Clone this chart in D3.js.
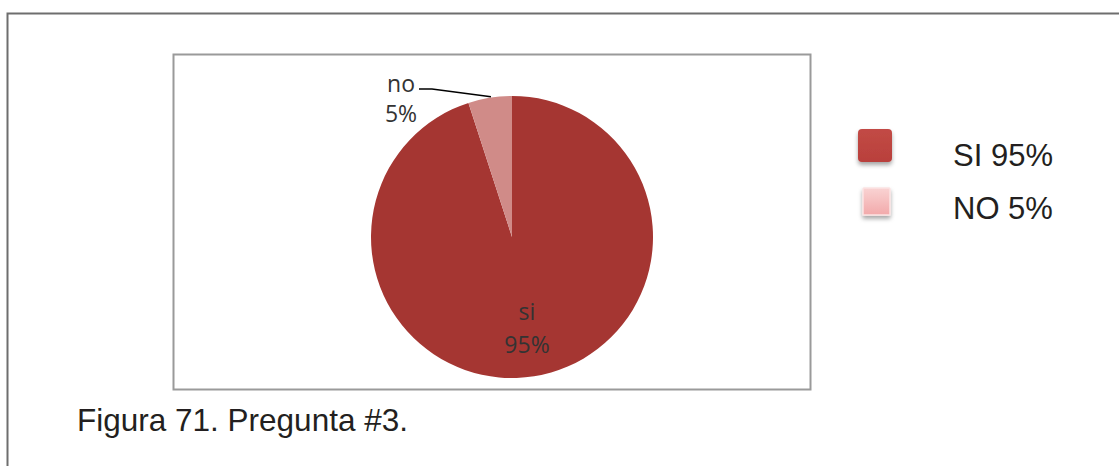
<!DOCTYPE html>
<html><head><meta charset="utf-8">
<script src="https://cdn.jsdelivr.net/npm/d3@7"></script>
<style>body{margin:0;background:#fff}svg{display:block}</style>
</head><body>
<svg id="c" width="1119" height="466"></svg>
<script>
const categories = ["si", "no"];
const values = [95, 5];
const legendLabels = ["SI 95%", "NO 5%"];
const caption = "Figura 71. Pregunta #3.";

const svg = d3.select("#c");
const defs = svg.append("defs");
const f = defs.append("filter").attr("id","sh").attr("x","-30%").attr("y","-30%").attr("width","160%").attr("height","170%");
f.append("feDropShadow").attr("dx",0).attr("dy",3).attr("stdDeviation",2).attr("flood-color","#000").attr("flood-opacity",0.35);
const g1 = defs.append("linearGradient").attr("id","gNo").attr("x1",0).attr("y1",0).attr("x2",0).attr("y2",1);
g1.append("stop").attr("offset","0%").attr("stop-color","#f9d3d3");
g1.append("stop").attr("offset","100%").attr("stop-color","#f2a9aa");
const g0 = defs.append("linearGradient").attr("id","gSi").attr("x1",0).attr("y1",0).attr("x2",0).attr("y2",1);
g0.append("stop").attr("offset","0%").attr("stop-color","#c24a45");
g0.append("stop").attr("offset","100%").attr("stop-color","#b9403c");

// outer frame
svg.append("path").attr("d","M7.5,470 V13.5 H1125").attr("fill","none").attr("stroke","#6e6e6e").attr("stroke-width",2);
// inner chart box
svg.append("rect").attr("x",173.5).attr("y",54.5).attr("width",637).attr("height",335)
  .attr("fill","#fff").attr("stroke","#9a9a9a").attr("stroke-width",2);

const color = d3.scaleOrdinal().domain(categories).range(["#a53632","#d08b88"]);
const pie = d3.pie().sort(null).value(d => d.v);
const data = categories.map((c,i)=>({c, v: values[i]}));
const arcs = pie(data);
const cx = 512, cy = 237, R = 141;
const arc = d3.arc().innerRadius(0).outerRadius(R);
const pg = svg.append("g").attr("transform",`translate(${cx},${cy})`);
pg.selectAll("path").data(arcs).join("path").attr("d",arc).attr("fill",d=>color(d.data.c));

const lblFont = "'Open Sans', 'Noto Sans', sans-serif";
const fs = 23;
// si label
const siArc = arcs[0];
pg.append("text").attr("x",15).attr("y",83).attr("text-anchor","middle")
  .attr("font-family",lblFont).attr("font-size",fs).attr("fill","#333")
  .text(siArc.data.c);
pg.append("text").attr("x",15).attr("y",116).attr("text-anchor","middle")
  .attr("font-family",lblFont).attr("font-size",fs).attr("fill","#333")
  .text(Math.round(siArc.data.v/d3.sum(values)*100)+"%");
// no label with leader
const noArc = arcs[1];
const mid = (noArc.startAngle+noArc.endAngle)/2;
const ex = Math.sin(mid)*R, ey = -Math.cos(mid)*R;
pg.append("polyline").attr("points",`${-93},${-148} ${-80},${-148} ${ex+1},${ey-1}`)
  .attr("fill","none").attr("stroke","#000").attr("stroke-width",1.3);
pg.append("text").attr("x",-111).attr("y",-145).attr("text-anchor","middle")
  .attr("font-family",lblFont).attr("font-size",fs).attr("fill","#333").text(noArc.data.c);
pg.append("text").attr("x",-111).attr("y",-115).attr("text-anchor","middle")
  .attr("font-family",lblFont).attr("font-size",fs).attr("fill","#333")
  .text(Math.round(noArc.data.v/d3.sum(values)*100)+"%");

// legend
svg.append("rect").attr("x",858).attr("y",129).attr("width",34).attr("height",33).attr("rx",4)
  .attr("fill","url(#gSi)").attr("filter","url(#sh)");
svg.append("rect").attr("x",863).attr("y",188).attr("width",27).attr("height",27).attr("rx",1)
  .attr("fill","url(#gNo)").attr("stroke","#fbe3e3").attr("stroke-width",1.5).attr("filter","url(#sh)");
const lf = "'Liberation Sans', Arial, sans-serif";
svg.selectAll("text.leg").data(legendLabels).join("text").attr("class","leg")
  .attr("x",953).attr("y",(d,i)=>166+i*53)
  .attr("font-family",lf).attr("font-size",31).attr("fill","#231f20").text(d=>d);

svg.append("text").attr("x",77).attr("y",431).attr("font-family",lf).attr("font-size",31.5)
  .attr("fill","#231f20").text(caption);
</script>
</body></html>
